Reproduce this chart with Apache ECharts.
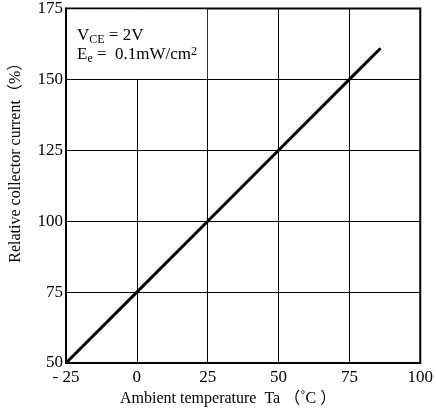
<!DOCTYPE html>
<html><head><meta charset="utf-8">
<script src="https://cdn.jsdelivr.net/npm/echarts@6/dist/echarts.min.js"></script>
<style>html,body{margin:0;padding:0;background:#fff}#c{width:436px;height:413px}</style>
</head><body><div id="c"></div>
<script>
// Axis ticks
const xTicks = [-25, 0, 25, 50, 75, 100];
const xTickLabels = ['- 25', '0', '25', '50', '75', '100'];
const yTicks = [50, 75, 100, 125, 150, 175];

// Relative collector current vs ambient temperature
const temperature = [-25, 0, 25, 50, 75, 86];
const relativeCurrent = [50, 75, 100, 125, 150, 161];

// Condition box extent (data units)
const boxX = [-25, 25];
const boxY = [150, 175];

const SERIF = '"Liberation Serif", "Times New Roman", "Noto Sans CJK JP", serif';

const chart = echarts.init(document.getElementById('c'), null, { renderer: 'canvas' });

const axisCommon = {
  axisTick: { show: false },
  axisLine: { show: true, onZero: false, lineStyle: { color: '#000', width: 2 } },
  splitLine: { show: true, lineStyle: { color: '#000', width: 1 } },
  axisLabel: { color: '#000', fontFamily: SERIF, fontSize: 17 },
  nameTextStyle: { color: '#000', fontFamily: SERIF, fontSize: 16 }
};

chart.setOption({
  animation: false,
  backgroundColor: '#fff',
  grid: { left: 65, right: 15, top: 8, bottom: 50, show: true, borderColor: '#000', borderWidth: 2 },
  xAxis: Object.assign({}, axisCommon, {
    type: 'value',
    min: xTicks[0], max: xTicks[xTicks.length - 1], interval: 25,
    name: 'Ambient temperature  Ta （˚C ）',
    nameLocation: 'middle', nameGap: 28,
    nameTextStyle: Object.assign({}, axisCommon.nameTextStyle, { padding: [0, 30, 0, 0] }),
    axisLabel: Object.assign({}, axisCommon.axisLabel, {
      margin: 6,
      formatter: v => xTickLabels[xTicks.indexOf(v)] ?? String(v)
    })
  }),
  yAxis: Object.assign({}, axisCommon, {
    type: 'value',
    min: yTicks[0], max: yTicks[yTicks.length - 1], interval: 25,
    name: 'Relative collector current（%）',
    nameLocation: 'middle', nameGap: 42, nameRotate: 90,
    nameTextStyle: Object.assign({}, axisCommon.nameTextStyle, { padding: [0, 0, 0, 54] }),
    axisLabel: Object.assign({}, axisCommon.axisLabel, { margin: 3 })
  }),
  series: [{
    type: 'line',
    data: temperature.map((t, i) => [t, relativeCurrent[i]]),
    symbol: 'none',
    lineStyle: { color: '#000', width: 3 },
    z: 5
  }]
});

// White condition box in the upper-left cell pair, with the test conditions
const p0 = chart.convertToPixel({ gridIndex: 0 }, [boxX[0], boxY[1]]);
const p1 = chart.convertToPixel({ gridIndex: 0 }, [boxX[1], boxY[0]]);
chart.setOption({
  graphic: [
    {
      type: 'rect', z: 10, silent: true,
      shape: { x: p0[0] + 1, y: p0[1] + 1, width: p1[0] - p0[0] - 1.5, height: p1[1] - p0[1] - 1.5 },
      style: { fill: '#fff' }
    },
    {
      type: 'text', z: 11, silent: true,
      x: p0[0] + 11, y: p0[1] + 18,
      style: {
        text: '{v|V}{s|CE}{v| = 2V}\n{v|E}{s|e}{v| =  0.1mW/cm}{p|2}',
        fill: '#000',
        rich: {
          v: { fontFamily: SERIF, fontSize: 17, lineHeight: 19, fill: '#000' },
          s: { fontFamily: SERIF, fontSize: 12, lineHeight: 12, verticalAlign: 'bottom', fill: '#000' },
          p: { fontFamily: SERIF, fontSize: 12, lineHeight: 12, verticalAlign: 'top', fill: '#000' }
        }
      }
    }
  ]
});
</script>
</body></html>
